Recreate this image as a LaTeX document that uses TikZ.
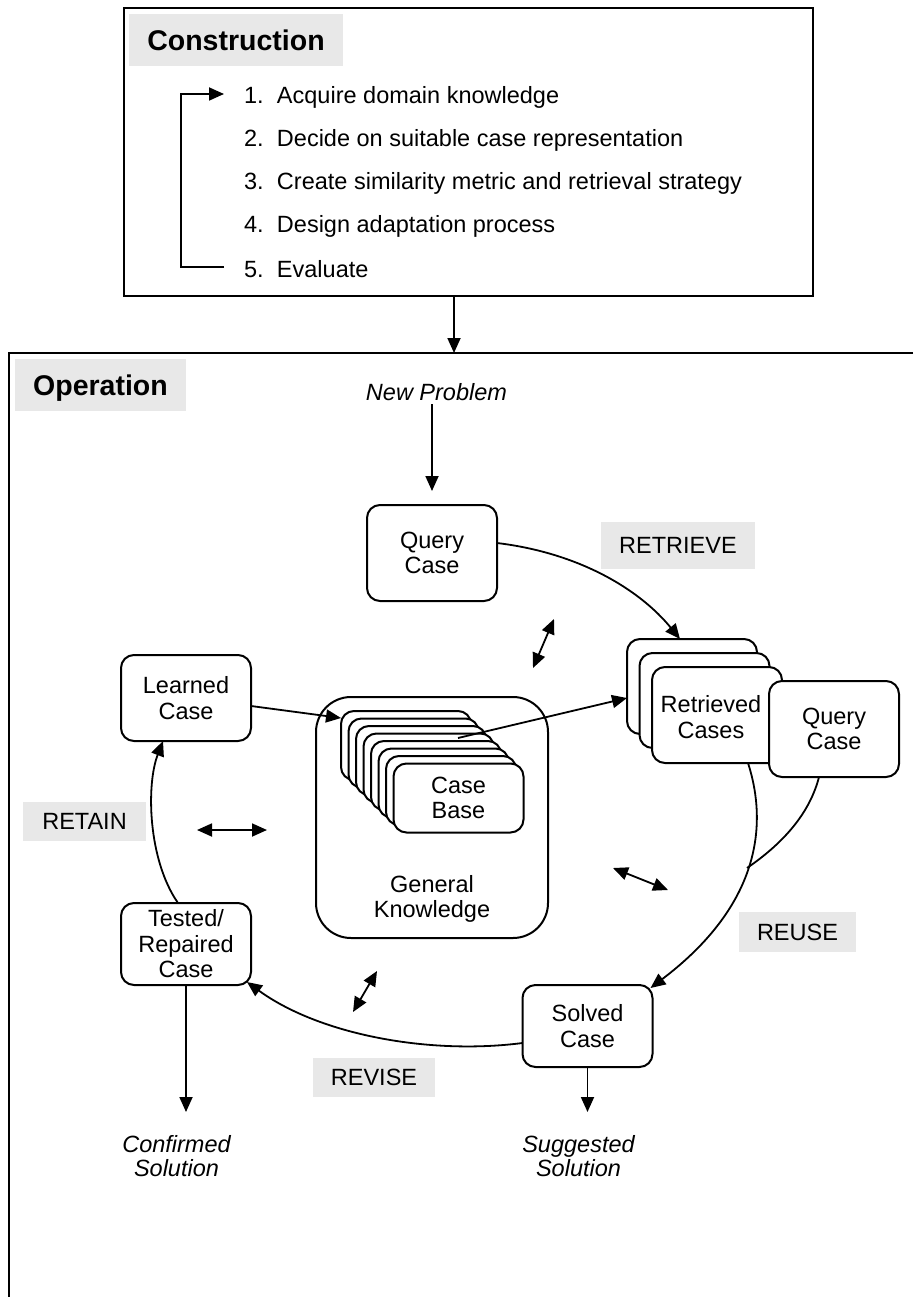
\documentclass[tikz,border=0pt]{standalone}
\usepackage{fontspec}
\setmainfont{Liberation Sans}
\usetikzlibrary{arrows.meta,calc}

\definecolor{hdrgray}{RGB}{232,232,232}
\newcommand\cbrtxt{\fontsize{23.5}{25.5}\selectfont}
\newcommand\cbrsol{\fontsize{23.5}{24.5}\selectfont\itshape}
\newcommand\cbrhdr{\fontsize{28.5}{32}\selectfont\bfseries}

\begin{document}
\begin{tikzpicture}[x=1pt,y=-1pt,
  every node/.style={inner sep=0pt, outer sep=0pt},
  tip/.tip={Triangle[length=15pt,width=13pt]},
  arr/.style={line width=1.8pt, -tip},
  dbl/.style={line width=1.8pt, tip-tip},
  link/.style={line width=1.8pt},
  frame/.style={draw, line width=2pt},
  casebox/.style={draw, line width=2pt, fill=white, rounded corners=13pt,
    minimum width=130pt, align=center, font=\cbrtxt},
  card/.style={casebox, minimum height=69pt},
  hdr/.style={fill=hdrgray, font=\cbrhdr, text depth=0pt},
  tag/.style={fill=hdrgray, font=\cbrtxt, text depth=0pt},
  listitem/.style={anchor=base west, font=\cbrtxt},
  outcome/.style={anchor=north, align=center, font=\cbrsol}
]
\useasboundingbox (0,0) rectangle (913,1297);

% ---------------- Construction phase ----------------
\node[frame, minimum width=689pt, minimum height=288pt] (construction) at (468.5,152) {};
\node[hdr, minimum width=214pt, minimum height=52pt] (conhdr) at (236,40) {Construction};

\node[listitem] (item1) at (244,104) {\makebox[33pt][l]{1.}Acquire domain knowledge};
\node[listitem] (item2) at (244,147) {\makebox[33pt][l]{2.}Decide on suitable case representation};
\node[listitem] (item3) at (244,190) {\makebox[33pt][l]{3.}Create similarity metric and retrieval strategy};
\node[listitem] (item4) at (244,233) {\makebox[33pt][l]{4.}Design adaptation process};
\node[listitem] (item5) at (244,277) {\makebox[33pt][l]{5.}Evaluate};

% feedback loop from evaluation back to knowledge acquisition
\draw[arr] ($(item5.base west)+(-20,-10)$) -- ++(-43,0) |- ($(item1.base west)+(-20,-10)$);

% ---------------- Operation phase ----------------
\coordinate (optop) at (454,353);
\draw[frame] (913,353) -- (9,353) -- (9,1297);
\node[hdr, minimum width=171pt, minimum height=52pt] (ophdr) at (100.5,385) {Operation};
\draw[arr] (construction.south -| optop) -- (optop);

\node[anchor=base, font=\cbrtxt\itshape] (newprob) at (436.5,400) {New Problem};

% case nodes of the cycle
\node[casebox, minimum height=96pt] (query) at (432,553) {Query\\Case};
\node[casebox, minimum height=86pt] (learned) at (186,698) {Learned\\Case};
\node[casebox, minimum height=82pt] (tested) at (186,944) {Tested/\\Repaired\\Case};
\node[casebox, minimum height=82pt] (solved) at (587.5,1026) {Solved\\Case};

% general knowledge with the stacked case base
\node[frame, rounded corners=35pt, minimum width=232pt, minimum height=241pt] (gk) at (432,817.5) {};
\node[font=\cbrtxt, align=center] (gktext) at (432,899) {General\\Knowledge};
\foreach \i in {0,...,6}
  \node[card] (cb\i) at ({406+7.5*\i},{745.5+7.5*\i}) {};
\node[card] (cb7) at (458.5,798) {Case\\Base};

% retrieved cases stack and the query case beside it
\node[casebox, minimum height=95pt] (r1) at (692,686.5) {};
\node[casebox, minimum height=95pt] (r2) at (704.5,700.5) {};
\node[casebox, minimum height=96pt] (r3) at (717,715) {};
\node[font=\cbrtxt, align=center] (rtext) at (711,717) {Retrieved\\Cases};
\node[casebox, minimum height=96pt] (query2) at (834,729) {Query\\Case};

% phase labels
\node[tag, minimum width=154pt, minimum height=47pt] (lretrieve) at (678,545.5) {RETRIEVE};
\node[tag, minimum width=123pt, minimum height=39pt] (lretain) at (84.5,821.5) {RETAIN};
\node[tag, minimum width=122pt, minimum height=39pt] (lrevise) at (374,1077.5) {REVISE};
\node[tag, minimum width=117pt, minimum height=40pt] (lreuse) at (797.5,932) {REUSE};

% outputs
\node[outcome] (confirmed) at (176.5,1135) {Confirmed\\Solution};
\node[outcome] (suggested) at (578.5,1135) {Suggested\\Solution};

% ---------------- connectors ----------------
\draw[arr, shorten <=4pt] (newprob.south -| query.north) -- ($(query.north)+(0,-14)$);

% retrieve
\draw[arr] ($(query.east)+(0,-10)$) .. controls (580,553) and (640,590) .. ($(r1.north west)+(53,0)$);
\draw[arr] ($(cb0.north west)+(117,27)$) -- ($(r1.north west)+(0,59)$);

% reuse
\coordinate (merge) at (747,868);
\draw[arr] ($(r3.south west)+(96,0)$) .. controls (768,825) and (760,905) .. ($(solved.north east)+(-2,3)$);
\draw[link] ($(query2.south west)+(50,0)$) .. controls (810,812) and (785,842) .. (merge);

% revise
\draw[arr] ($(solved.west)+(0,17)$) .. controls (430,1055) and (320,1035) .. ($(tested.south east)+(-4,-3)$);

% retain
\draw[arr] ($(tested.north)+(-8,0)$) .. controls (148,860) and (146,785) .. ($(learned.south)+(-23,0)$);
\draw[arr] ($(learned.east)+(0,8)$) -- ($(cb0.north west)+(0,7)$);

% solutions leaving the cycle
\draw[arr, shorten >=23pt] (tested.south) -- (tested.south |- confirmed.north);
\draw[arr, shorten >=23pt] (solved.south) -- (solved.south |- suggested.north);

% exchanges with general knowledge
\coordinate (k1a) at (554,619);  \coordinate (k1b) at (533,668);
\coordinate (k2a) at (197,830);  \coordinate (k2b) at (267,830);
\coordinate (k3a) at (377,971);  \coordinate (k3b) at (353,1012);
\coordinate (k4a) at (613,868);  \coordinate (k4b) at (668,890);
\draw[dbl] (k1a) -- (k1b);
\draw[dbl] (k2a) -- (k2b);
\draw[dbl] (k3a) -- (k3b);
\draw[dbl] (k4a) -- (k4b);
\end{tikzpicture}
\end{document}
